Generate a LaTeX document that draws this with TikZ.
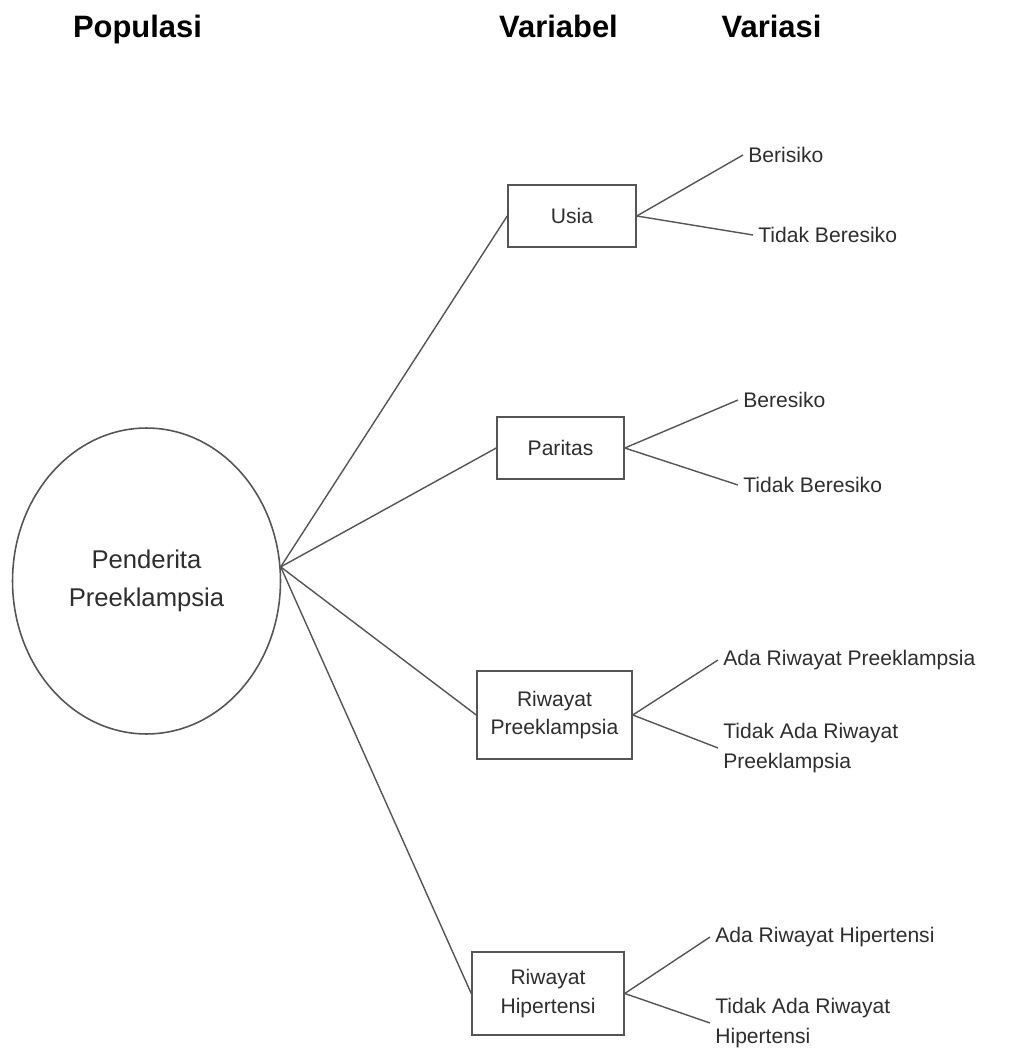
\documentclass[tikz,border=0pt]{standalone}
\usepackage{fontspec}
\setmainfont{Liberation Sans}
\usetikzlibrary{shapes.geometric}
\definecolor{linegray}{HTML}{555555}
\definecolor{textgray}{HTML}{2E2E2E}
\begin{document}
\begin{tikzpicture}
[x=0.02cm,y=-0.02cm,
 head/.style={anchor=base, inner sep=0, font=\fontsize{17.6}{21}\selectfont\bfseries},
 pop/.style={ellipse, draw=linegray, line width=0.9pt, inner sep=0, minimum width=5.36cm, minimum height=6.12cm, align=center, text=textgray, font=\fontsize{14.6}{21.5}\selectfont},
 var/.style={rectangle, draw=linegray, line width=0.9pt, align=center, text=textgray, font=\fontsize{12}{16}\selectfont},
 lbl/.style={anchor=west, inner sep=0.1cm, align=left, text=textgray, font=\fontsize{12}{17}\selectfont},
 conn/.style={draw=linegray, line width=0.8pt}]
\useasboundingbox (0,0) rectangle (1013,1053);
% column heads
\node[head] (hpop) at (137.5,38) {Populasi};
\node[head] (hvar) at (558.5,38) {Variabel};
\node[head] (hvrs) at (771.5,38) {Variasi};
% population
\node[pop] (pop) at (146.5,581) {Penderita\\Preeklampsia};
% variables
\node[var, minimum width=2.56cm, minimum height=1.24cm] (usia) at (572,216) {Usia};
\node[var, minimum width=2.54cm, minimum height=1.24cm] (paritas) at (560.5,448) {Paritas};
\node[var, minimum width=3.10cm, minimum height=1.76cm] (rp) at (554.5,715) {Riwayat\\Preeklampsia};
\node[var, minimum width=3.04cm, minimum height=1.66cm] (rh) at (548,993.5) {Riwayat\\Hipertensi};
% variations
\node[lbl] (usia1) at (743,155) {Berisiko};
\node[lbl] (usia2) at (753,235) {Tidak Beresiko};
\node[lbl] (paritas1) at (738,400) {Beresiko};
\node[lbl] (paritas2) at (738,485) {Tidak Beresiko};
\node[lbl] (rp1) at (718,660) {Ada Riwayat Preeklampsia};
\node[lbl] (rp2) at (718,748) {Tidak Ada Riwayat\\Preeklampsia};
\node[lbl] (rh1) at (710,937) {Ada Riwayat Hipertensi};
\node[lbl] (rh2) at (710,1023) {Tidak Ada Riwayat\\Hipertensi};
\foreach \v in {usia,paritas,rp,rh}
{
  \draw[conn] (pop.6) to (\v.west);
  \draw[conn] (\v.east) to (\v1.west);
  \draw[conn] (\v.east) to (\v2.west);
}
\end{tikzpicture}
\end{document}
